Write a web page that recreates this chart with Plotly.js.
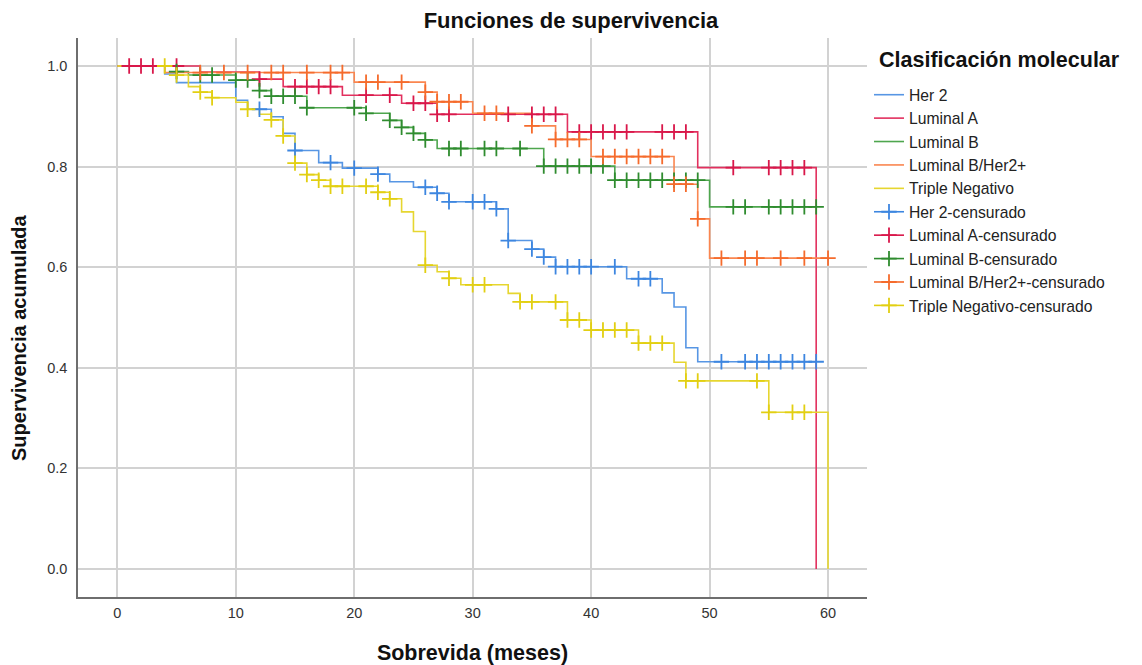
<!DOCTYPE html>
<html>
<head>
<meta charset="utf-8">
<script src="https://cdn.plot.ly/plotly-3.0.1.min.js"></script>
<style>html,body{margin:0;padding:0;background:#fff;}#chart{width:1142px;height:665px;}</style>
</head>
<body>
<div id="chart"></div>
<script>
// ---- Data (months, cumulative survival) ----
var groupNames = ["Her 2", "Luminal A", "Luminal B", "Luminal B/Her2+", "Triple Negativo"];

var her2Times = [0, 4, 5, 10, 11, 13, 14, 15, 17, 19, 22, 23, 25, 27, 28, 32, 33, 35, 36, 37, 43, 46, 47, 48, 49, 59];
var her2Surv  = [1.0, 0.984, 0.967, 0.932, 0.914, 0.899, 0.866, 0.832, 0.808, 0.797, 0.785, 0.770, 0.759, 0.747, 0.730, 0.716, 0.653, 0.636, 0.620, 0.601, 0.577, 0.549, 0.521, 0.440, 0.412, 0.412];
var her2Cens  = [12, 15, 18, 20, 22, 26, 27, 28, 30, 31, 32, 33, 35, 36, 37, 38, 39, 40, 42, 44, 45, 51, 53, 54, 55, 56, 57, 58, 59];

var lumATimes = [0, 7, 12, 14, 19, 24, 27, 38, 49, 59];
var lumASurv  = [1.0, 0.988, 0.974, 0.959, 0.942, 0.926, 0.904, 0.869, 0.798, 0.0];
var lumACens  = [1, 2, 3, 5, 12, 15, 16, 17, 18, 21, 23, 25, 26, 27, 28, 33, 35, 36, 37, 39, 40, 41, 42, 43, 46, 47, 48, 52, 55, 56, 57, 58];

var lumBTimes = [0, 5, 6, 10, 12, 13, 16, 21, 23, 24, 25, 26, 27, 36, 42, 50, 59];
var lumBSurv  = [1.0, 0.989, 0.982, 0.972, 0.951, 0.940, 0.917, 0.906, 0.892, 0.878, 0.866, 0.853, 0.836, 0.801, 0.773, 0.720, 0.720];
var lumBCens  = [5, 7, 8, 10, 11, 12, 13, 14, 15, 16, 20, 21, 23, 24, 25, 26, 28, 29, 31, 32, 34, 36, 37, 38, 39, 40, 41, 42, 43, 44, 45, 46, 47, 48, 49, 52, 53, 55, 56, 57, 58, 59];

var lumBHTimes = [0, 4, 20, 26, 27, 30, 35, 37, 40, 47, 49, 50, 60];
var lumBHSurv  = [1.0, 0.987, 0.968, 0.948, 0.929, 0.906, 0.881, 0.854, 0.820, 0.765, 0.696, 0.618, 0.618];
var lumBHCens  = [7, 9, 11, 13, 14, 16, 18, 19, 21, 22, 24, 26, 27, 28, 29, 31, 32, 35, 37, 38, 39, 41, 42, 43, 44, 45, 46, 47, 48, 49, 51, 53, 54, 56, 58, 60];

var tnTimes = [0, 5, 6, 7, 8, 10, 11, 12, 13, 14, 15, 16, 17, 18, 22, 23, 24, 25, 26, 27, 28, 29, 33, 34, 38, 40, 44, 47, 48, 55, 60];
var tnSurv  = [1.0, 0.982, 0.959, 0.948, 0.937, 0.928, 0.914, 0.904, 0.893, 0.861, 0.807, 0.784, 0.773, 0.761, 0.749, 0.736, 0.710, 0.671, 0.604, 0.591, 0.578, 0.565, 0.548, 0.531, 0.495, 0.475, 0.449, 0.411, 0.374, 0.3115, 0.0];
var tnCens  = [4, 5, 7, 8, 11, 13, 14, 15, 16, 17, 18, 19, 21, 22, 23, 26, 28, 30, 31, 34, 35, 37, 38, 39, 40, 41, 42, 43, 44, 45, 46, 48, 49, 54, 55, 57, 58];

var xTickVals = [0, 10, 20, 30, 40, 50, 60];
var yTickVals = [0.0, 0.2, 0.4, 0.6, 0.8, 1.0];

// ---- Styles ----
var lineColors = ["#5796e4", "#e2305e", "#4ea64e", "#fa8650", "#e6d630"];
var censColors = ["#3d86e0", "#d9174a", "#2f8c2f", "#f56b2c", "#e2cf12"];

var groups = [
  {t: her2Times, s: her2Surv, c: her2Cens},
  {t: lumATimes, s: lumASurv, c: lumACens},
  {t: lumBTimes, s: lumBSurv, c: lumBCens},
  {t: lumBHTimes, s: lumBHSurv, c: lumBHCens},
  {t: tnTimes, s: tnSurv, c: tnCens}
];

function survAt(g, time) {
  var v = g.s[0];
  for (var i = 0; i < g.t.length; i++) { if (g.t[i] <= time) v = g.s[i]; }
  return v;
}

var traces = [];
groups.forEach(function (g, k) {
  traces.push({
    type: "scatter", mode: "lines", name: groupNames[k],
    x: g.t, y: g.s,
    line: {shape: "hv", color: lineColors[k], width: 1.6},
    hoverinfo: "x+y+name"
  });
});
groups.forEach(function (g, k) {
  var cx = [], cy = [];
  g.c.forEach(function (t) { cx.push(t, null); cy.push(survAt(g, t), null); });
  traces.push({
    type: "scatter", mode: "lines+markers", name: groupNames[k] + "-censurado",
    x: cx, y: cy, connectgaps: false,
    line: {color: censColors[k], width: 1.6},
    marker: {symbol: "cross-thin", size: 11, line: {color: censColors[k], width: 1.8}},
    hoverinfo: "x+y+name"
  });
});

var fontFam = "Liberation Sans, Arial, Helvetica, sans-serif";
var layout = {
  width: 1142, height: 665,
  margin: {l: 78, r: 275, t: 38, b: 68, pad: 0},
  paper_bgcolor: "#ffffff", plot_bgcolor: "#ffffff",
  font: {family: fontFam, color: "#1a1a1a"},
  showlegend: true,
  title: {
    text: "Funciones de supervivencia",
    font: {family: fontFam, size: 22, weight: 700, color: "#111"},
    xref: "container", x: 0.5, xanchor: "center",
    yref: "container", y: 1 - 20.5 / 665, yanchor: "middle"
  },
  xaxis: {
    range: [-3.32, 63.29], tickvals: xTickVals, ticktext: xTickVals.map(String),
    showgrid: true, gridcolor: "#d2d2d2", gridwidth: 1.6,
    zeroline: false, showline: true, linecolor: "#6e6e6e", linewidth: 1.6,
    ticks: "", tickfont: {size: 14.5, color: "#333"}, ticklabelstandoff: 2,
    automargin: false, fixedrange: true,
    title: {text: "Sobrevida (meses)", font: {size: 21.5, weight: 700, color: "#111"}, standoff: 26}
  },
  yaxis: {
    range: [-0.0557, 1.0557], tickvals: yTickVals, ticktext: yTickVals.map(function (v) { return v.toFixed(1); }),
    showgrid: true, gridcolor: "#d2d2d2", gridwidth: 1.6,
    zeroline: false, showline: true, linecolor: "#6e6e6e", linewidth: 1.6,
    ticks: "", tickfont: {size: 14.5, color: "#333"}, ticklabelstandoff: 6,
    automargin: false, fixedrange: true
  },
  legend: {
    x: (869 - 78) / 789, xanchor: "left", y: (597 - 78) / 559, yanchor: "top",
    bgcolor: "rgba(0,0,0,0)", borderwidth: 0,
    font: {size: 15.7, color: "#222"},
    traceorder: "normal", tracegroupgap: 0, itemclick: false, itemdoubleclick: false
  },
  annotations: [{
    text: "Clasificación molecular", showarrow: false,
    xref: "paper", yref: "paper", x: (877 - 78) / 789, xanchor: "left",
    y: (597 - 60) / 559, yanchor: "middle",
    font: {size: 21.5, weight: 700, color: "#111"}
  }, {
    text: "Supervivencia acumulada", showarrow: false, textangle: -90,
    xref: "paper", yref: "paper", x: (19 - 78) / 789, xanchor: "center",
    y: (597 - 338) / 559, yanchor: "middle",
    font: {size: 20, weight: 700, color: "#111"}
  }]
};

Plotly.newPlot("chart", traces, layout, {displayModeBar: false, responsive: false});
</script>
</body>
</html>
